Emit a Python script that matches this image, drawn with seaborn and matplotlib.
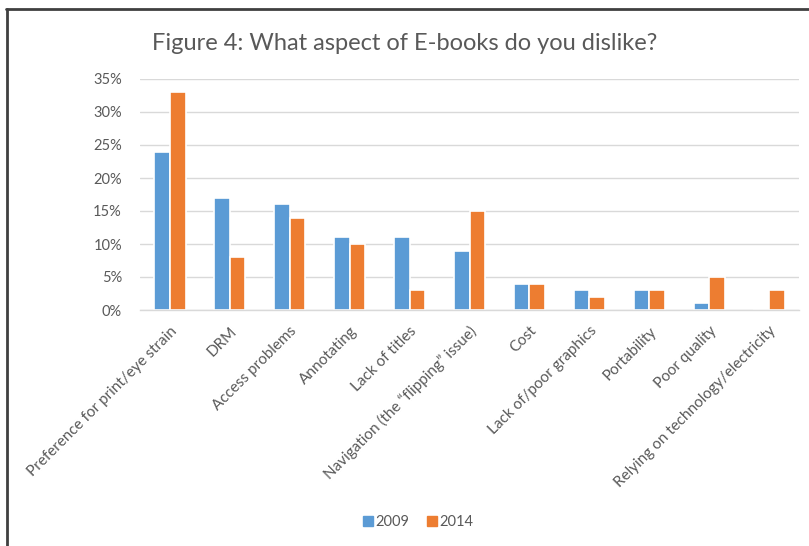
import matplotlib
matplotlib.use("Agg")
import matplotlib.pyplot as plt
import seaborn as sns
import pandas as pd
from matplotlib.ticker import FuncFormatter, MultipleLocator
from matplotlib.lines import Line2D

categories = [
    "Preference for print/eye strain",
    "DRM",
    "Access problems",
    "Annotating",
    "Lack of titles",
    "Navigation (the \u201cflipping\u201d issue)",
    "Cost",
    "Lack of/poor graphics",
    "Portability",
    "Poor quality",
    "Relying on technology/electricity",
]
values_2009 = [24, 17, 16, 11, 11, 9, 4, 3, 3, 1, 0]
values_2014 = [33, 8, 14, 10, 3, 15, 4, 2, 3, 5, 3]
years = ["2009", "2014"]
colors = ["#5B9BD5", "#ED7D31"]

df = pd.DataFrame({
    "category": categories * 2,
    "year": [years[0]] * len(categories) + [years[1]] * len(categories),
    "value": values_2009 + values_2014,
})

sns.set_theme(style="white")
plt.rcParams["font.family"] = ["Lato", "DejaVu Sans"]

fig = plt.figure(figsize=(8.09, 5.46), dpi=100)
ax = fig.add_axes([140 / 809, 1 - 310 / 546, 659 / 809, 231 / 546])

sns.barplot(data=df, x="category", y="value", hue="year", palette=colors,
            width=0.52, ax=ax, legend=False, edgecolor="white", linewidth=1.2,
            saturation=1)

ax.set_ylim(0, 35)
ax.set_xlim(-0.5, len(categories) - 0.5)
ax.yaxis.set_major_locator(MultipleLocator(5))
ax.yaxis.set_major_formatter(FuncFormatter(lambda v, p: f"{int(v)}%"))
ax.grid(axis="y", color="#D9D9D9", linewidth=1)
ax.set_axisbelow(True)
for s in ["left", "right", "top"]:
    ax.spines[s].set_visible(False)
ax.spines["bottom"].set_color("#D9D9D9")
ax.spines["bottom"].set_linewidth(1)
ax.set_xlabel("")
ax.set_ylabel("")
ax.tick_params(axis="y", length=0, pad=13, labelsize=10.5, labelcolor="#595959")
ax.tick_params(axis="x", length=0, pad=10, labelsize=11, labelcolor="#595959")
plt.setp(ax.get_xticklabels(), rotation=45, ha="right", rotation_mode="anchor")

fig.text(0.5, 1 - 44 / 546, "Figure 4: What aspect of E-books do you dislike?",
         ha="center", va="center", fontsize=17, color="#595959")

handles = [Line2D([0], [0], marker="s", linestyle="", markersize=7.5,
                  markerfacecolor=c, markeredgecolor=c) for c in colors]
fig.legend(handles, years, loc="center", bbox_to_anchor=(417 / 809, 1 - 522 / 546),
           ncol=2, frameon=False, fontsize=10.5, labelcolor="#595959",
           handletextpad=0.05, columnspacing=1.0, handlelength=1.0)

# figure border (top and left)
fig.add_artist(Line2D([6 / 809, 1.0], [1 - 9 / 546, 1 - 9 / 546],
                      transform=fig.transFigure, color="#404040", linewidth=2))
fig.add_artist(Line2D([7 / 809, 7 / 809], [0, 1 - 9 / 546],
                      transform=fig.transFigure, color="#404040", linewidth=2))

fig.savefig("out.png", dpi=100, facecolor="white")
